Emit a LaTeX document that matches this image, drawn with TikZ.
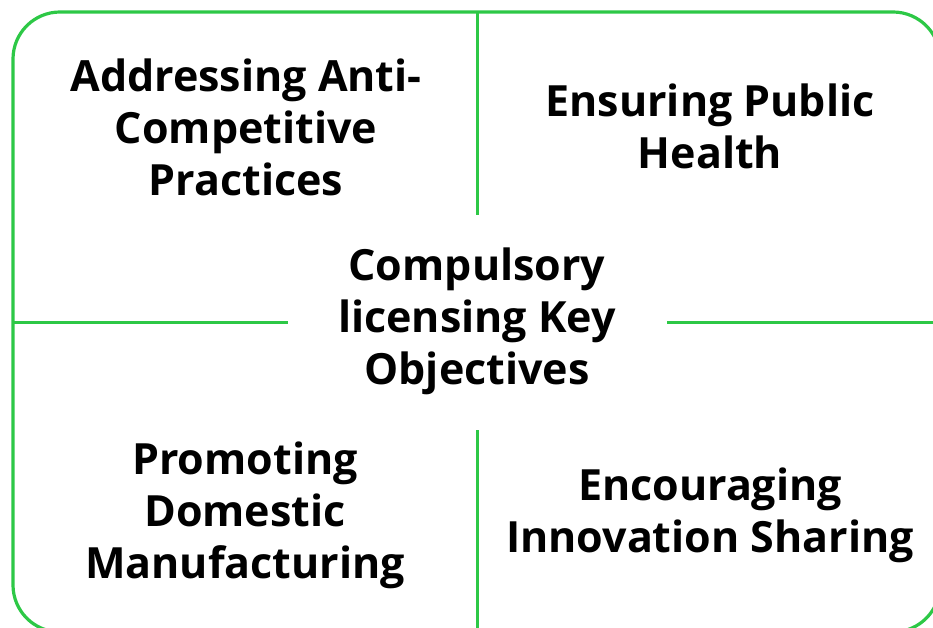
\documentclass[tikz,border=0pt]{standalone}
\usepackage{fontspec}
\setmainfont{Open Sans}
\definecolor{divgreen}{RGB}{45,200,70}
\begin{document}
\begin{tikzpicture}[x=1pt,y=-1pt,
  quadtext/.style={font=\bfseries\fontsize{43}{52}\selectfont, align=center, text=black, inner sep=0pt},
  divider/.style={draw=divgreen, line width=3.2pt}]
\useasboundingbox (0,0) rectangle (933,628);
\clip (0,0) rectangle (933,628);
% outer frame
\draw[divider, rounded corners=47pt] (13,12) rectangle (940,632);
% dividing lines, interrupted around the central title
\coordinate (vtop) at (477.5,12);
\coordinate (vtopend) at (477.5,215);
\coordinate (vbotstart) at (477.5,430);
\coordinate (vbot) at (477.5,632);
\coordinate (hleft) at (13,322.5);
\coordinate (hleftend) at (288,322.5);
\coordinate (hrightstart) at (667,322.5);
\coordinate (hright) at (940,322.5);
\draw[divider] (vtop) -- (vtopend);
\draw[divider] (vbotstart) -- (vbot);
\draw[divider] (hleft) -- (hleftend);
\draw[divider] (hrightstart) -- (hright);
% texts
\node[quadtext] (center) at (477,321) {Compulsory\\licensing Key\\Objectives};
\node[quadtext] (tl) at (246,127) {Addressing Anti-\\Competitive\\Practices};
\node[quadtext] (tr) at (710,126) {Ensuring Public\\Health};
\node[quadtext] (bl) at (245,515) {Promoting\\Domestic\\Manufacturing};
\node[quadtext] (br) at (710,515) {Encouraging\\Innovation Sharing};
\end{tikzpicture}
\end{document}
